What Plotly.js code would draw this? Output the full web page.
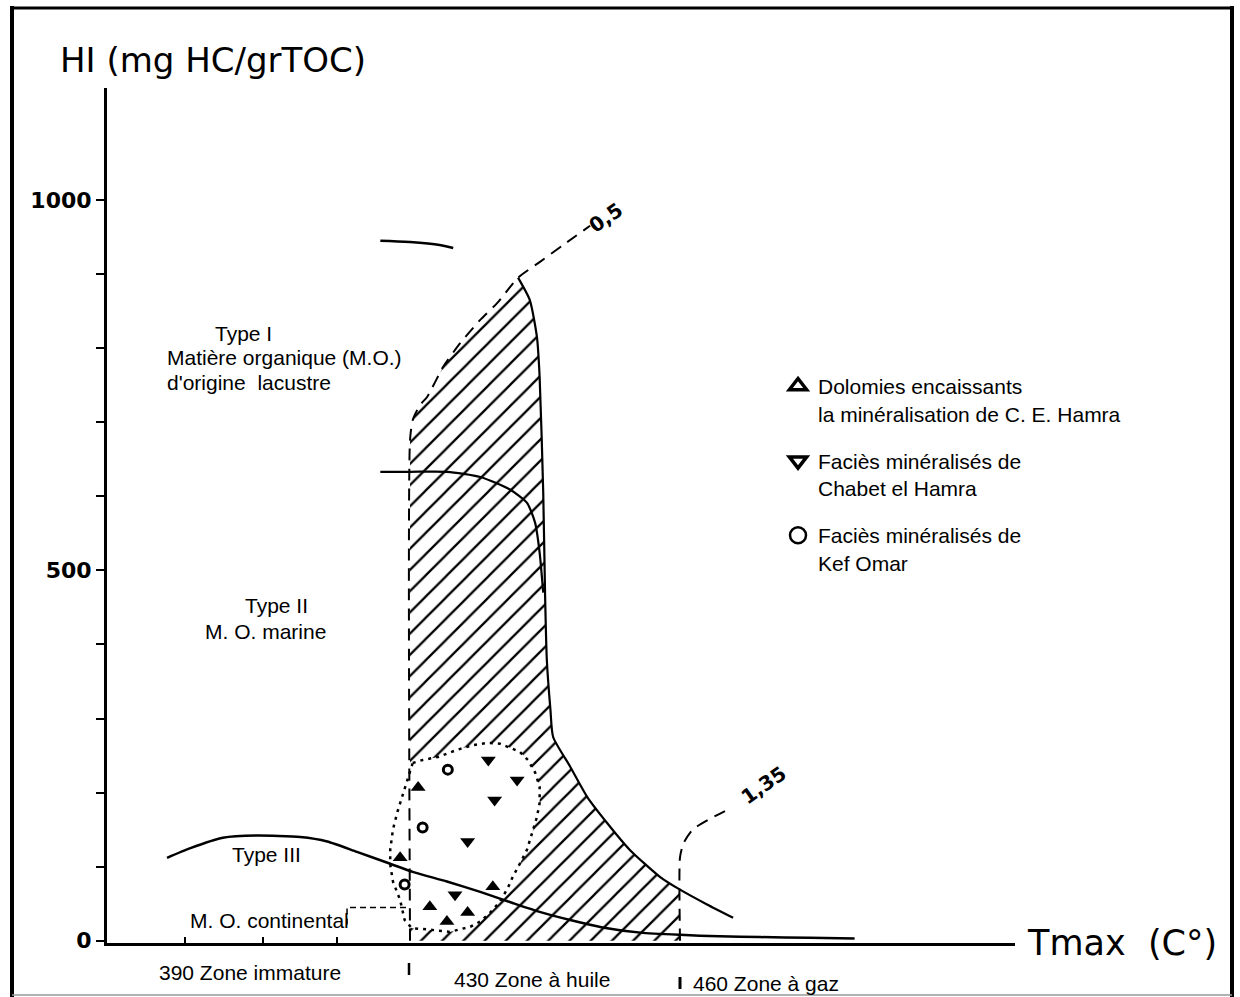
<!DOCTYPE html>
<html><head><meta charset="utf-8">
<script src="https://cdn.plot.ly/plotly-3.0.1.min.js"></script>
<style>html,body{margin:0;padding:0;background:#fff}#chart{width:1240px;height:997px}</style>
</head><body><div id="chart"></div>
<script>
// ---- values (x: Tmax °C, y: HI mg HC/g TOC) ----
const typeI_x = [426.7, 430, 433.3, 434.8];
const typeI_y = [945, 943, 939, 935];

const iso05_x = [430, 430, 430.3, 431.1, 431.9, 433.7, 435.6, 437.8, 439.7, 442, 444.4, 447, 450];
const iso05_y = [0, 676, 703, 723, 734, 775, 807, 838, 861, 895, 916, 939, 965];

const edgeI_x = [442, 443.3, 444.1, 444.4, 444.8, 445, 445.2, 445.6, 445.9, 447.8, 449.7, 451.9, 454.4, 457.8, 460, 463, 465.9];
const edgeI_y = [895, 865, 815, 761, 605, 470, 379, 312, 275, 235, 194, 159, 123, 86, 69, 49, 31];

const typeII_x = [426.7, 430, 434.1, 437.8, 441.1, 443, 443.9, 444.4, 444.8];
const typeII_y = [633, 633, 633, 626, 609, 591, 564, 524, 470];

const typeIII_x = [403, 405.6, 409.2, 413, 417.8, 420.8, 424.1, 427.8, 430.3, 434.1, 437.8, 441.4, 444.4, 447.8, 451.4, 455.6, 460, 464.4, 468.9, 474.4, 479.4];
const typeIII_y = [112, 125, 139, 142, 140, 134, 120, 104, 93, 80, 66, 51, 39, 28, 18, 11, 8, 6, 5, 4, 3];

const iso135_x = [460, 460, 460.4, 461.4, 463.1, 465.3];
const iso135_y = [0, 113, 132, 150, 163, 177];

const contin_x = [423, 423, 429.8];
const contin_y = [22, 45, 45];

const envelope_x = [430.3, 431.4, 433.1, 435.3, 437, 438.6, 440, 442.2, 443.1, 443.9, 444.4, 444.4, 444.1, 443.6, 443, 442.2, 441.4, 440.9, 440, 438.9, 437.8, 436.7, 434.4, 432.2, 430.2, 429.4, 428.9, 428.1, 427.8, 427.8, 428.1, 428.6, 429.4, 430.3];
const envelope_y = [240, 244, 248, 258, 264, 267, 266, 255, 244, 227, 208, 186, 167, 146, 123, 104, 86, 72, 53, 38, 26, 19, 12, 15, 17, 28, 55, 80, 103, 123, 150, 174, 204, 240];

const dolomie_x = [430.9, 428.9, 439.2, 432.2, 436.4, 434.1];
const dolomie_y = [207, 112, 73, 46, 38, 26];
const chabet_x = [438.7, 441.9, 439.4, 436.4, 435];
const chabet_y = [244, 217, 190, 134, 62];
const kef_x = [434.2, 431.4, 429.4];
const kef_y = [231, 153, 76];

const seriesNames = [
  'Dolomies encaissants<br>la minéralisation de C. E. Hamra',
  'Faciès minéralisés de<br>Chabet el Hamra',
  'Faciès minéralisés de<br>Kef Omar'
];
const yTitle = 'HI (mg HC/grTOC)';
const xTitle = 'Tmax\u00a0\u00a0(C°)';
const zoneLabels = ['390 Zone immature', '430 Zone à huile', '460 Zone à gaz'];
const zoneLabelX = [401.9, 434.7, 461.2];
const xTickVals = [405, 413.7, 421.9];
const yMinorVals = [100, 200, 300, 400, 600, 700, 800, 900];

// hatched maturity window built from the curves above
const hatch_x = iso05_x.slice(1, 10).concat(edgeI_x.slice(1, 15), [460, 430]);
const hatch_y = iso05_y.slice(1, 10).concat(edgeI_y.slice(1, 15), [0, 0]);

const K = '#000';
const traces = [
  {x: hatch_x, y: hatch_y, mode: 'lines', fill: 'toself', line: {width: 0, color: 'rgba(0,0,0,0)'},
   fillcolor: 'rgba(0,0,0,0)', fillpattern: {shape: '/', size: 15, solidity: 0.15, fgcolor: K, bgcolor: 'rgba(0,0,0,0)'},
   hoverinfo: 'skip', showlegend: false},
  {x: envelope_x, y: envelope_y, mode: 'lines', fill: 'toself', fillcolor: '#fff',
   line: {color: K, width: 2.5, dash: '3px,5px'}, hoverinfo: 'skip', showlegend: false},
  {x: typeI_x, y: typeI_y, mode: 'lines', line: {color: K, width: 2.5, shape: 'spline'}, showlegend: false},
  {x: iso05_x, y: iso05_y, mode: 'lines', line: {color: K, width: 2, dash: '12px,8px', shape: 'spline', smoothing: 0.6}, showlegend: false},
  {x: edgeI_x, y: edgeI_y, mode: 'lines', line: {color: K, width: 2.2, shape: 'spline', smoothing: 0.6}, showlegend: false},
  {x: typeII_x, y: typeII_y, mode: 'lines', line: {color: K, width: 2.2, shape: 'spline', smoothing: 0.6}, showlegend: false},
  {x: typeIII_x, y: typeIII_y, mode: 'lines', line: {color: K, width: 2.5, shape: 'spline', smoothing: 0.6}, showlegend: false},
  {x: iso135_x, y: iso135_y, mode: 'lines', line: {color: K, width: 2, dash: '12px,8px', shape: 'spline', smoothing: 0.6}, showlegend: false},
  {x: contin_x, y: contin_y, mode: 'lines', line: {color: K, width: 1.5, dash: '6px,4px'}, showlegend: false},
  {x: dolomie_x, y: dolomie_y, mode: 'markers', marker: {symbol: 'triangle-up', size: 13, color: K}, showlegend: false, name: seriesNames[0]},
  {x: chabet_x, y: chabet_y, mode: 'markers', marker: {symbol: 'triangle-down', size: 13, color: K}, showlegend: false, name: seriesNames[1]},
  {x: kef_x, y: kef_y, mode: 'markers', marker: {symbol: 'circle-open', size: 9, color: K, line: {width: 3, color: K}}, showlegend: false, name: seriesNames[2]},
  // legend entries (open symbols as in the key)
  {x: [null], y: [null], mode: 'markers', name: seriesNames[0], legendgroup: 'a', marker: {symbol: 'triangle-up-open', size: 15, color: K, line: {width: 3.5, color: K}}},
  {x: [null], y: [null], mode: 'markers', name: seriesNames[1], legendgroup: 'b', marker: {symbol: 'triangle-down-open', size: 15, color: K, line: {width: 3.5, color: K}}},
  {x: [null], y: [null], mode: 'markers', name: seriesNames[2], legendgroup: 'c', marker: {symbol: 'circle-open', size: 16, color: K, line: {width: 2.5, color: K}}}
];

const FS = 21;
const txt = (text, x, y, extra) => Object.assign({text, x, y, xref: 'x', yref: 'y', showarrow: false, xanchor: 'left', yanchor: 'middle', font: {size: FS}}, extra || {});
const annotations = [
  txt('Type I', 408.1, 820),
  txt('Matière organique (M.O.)', 402.8, 787),
  txt("d'origine  lacustre", 402.8, 753),
  txt('Type II', 411.4, 452),
  txt('M. O. marine', 407, 417),
  txt('Type III', 410, 116),
  txt('M. O. continental', 405.3, 28),
  txt('0,5', 451.7, 976, {xanchor: 'center', textangle: -35, font: {family: 'DejaVu Sans', size: 20, weight: 'bold'}}),
  txt('1,35', 469.3, 210, {xanchor: 'center', textangle: -35, font: {family: 'DejaVu Sans', size: 20, weight: 'bold'}}),
  {text: xTitle, xref: 'paper', yref: 'paper', x: 1.011, y: 0, xanchor: 'left', yanchor: 'middle', showarrow: false,
   font: {family: 'DejaVu Sans', size: 35}}
];
const zoneY = [-0.034, -0.043, -0.047];
zoneLabels.forEach((t, i) => annotations.push({text: t, x: zoneLabelX[i], y: zoneY[i], xref: 'x', yref: 'paper',
  xanchor: 'left', yanchor: 'middle', showarrow: false, font: {size: FS}}));

const P = (px) => (px - 107) / 908, Q = (py) => (943 - py) / 855;
const shapes = [
  {type: 'line', xref: 'paper', yref: 'paper', x0: P(12), x1: P(12), y0: Q(6), y1: Q(997), line: {color: K, width: 4}},
  {type: 'line', xref: 'paper', yref: 'paper', x0: P(10), x1: P(1234), y0: Q(8), y1: Q(8), line: {color: K, width: 3}},
  {type: 'line', xref: 'paper', yref: 'paper', x0: P(1232), x1: P(1232), y0: Q(6), y1: Q(997), line: {color: K, width: 4}},
  {type: 'line', xref: 'paper', yref: 'paper', x0: P(12), x1: P(1232), y0: Q(995), y1: Q(995), line: {color: '#999', width: 1.5}},
  {type: 'line', xref: 'paper', yref: 'paper', x0: P(409), x1: P(409), y0: Q(963), y1: Q(975), line: {color: K, width: 2.5}},
  {type: 'line', xref: 'paper', yref: 'paper', x0: P(680), x1: P(680), y0: Q(977), y1: Q(989), line: {color: K, width: 3}}
];

const layout = {
  width: 1240, height: 997,
  margin: {l: 107, r: 225, t: 88, b: 54, autoexpand: false},
  paper_bgcolor: '#fff', plot_bgcolor: '#fff',
  font: {family: 'Liberation Sans, Arial, sans-serif', size: FS, color: K},
  title: {text: yTitle, font: {family: 'DejaVu Sans', size: 34, color: K}, xref: 'container', yref: 'container',
          x: 60 / 1240, xanchor: 'left', y: 1 - 60 / 997, yanchor: 'middle'},
  xaxis: {range: [396.33, 497.22], showline: true, linewidth: 2.5, linecolor: K, showgrid: false, zeroline: false,
          tickmode: 'array', tickvals: xTickVals, ticks: 'inside', ticklen: 6, tickwidth: 2, tickcolor: K,
          showticklabels: false, automargin: false, fixedrange: true},
  yaxis: {range: [-3, 1151], showline: true, linewidth: 3, linecolor: K, showgrid: false, zeroline: false,
          tickmode: 'linear', tick0: 0, dtick: 500, ticks: 'outside', ticklen: 8, tickwidth: 2, tickcolor: K,
          tickfont: {family: 'DejaVu Sans', size: 22, weight: 'bold', color: K},
          minor: {tickmode: 'array', tickvals: yMinorVals, ticks: 'outside', ticklen: 8, tickwidth: 2, tickcolor: K, showgrid: false},
          automargin: false, fixedrange: true},
  showlegend: true,
  legend: {x: 0.739, y: 0.675, xanchor: 'left', yanchor: 'top', bgcolor: 'rgba(0,0,0,0)', borderwidth: 0,
           font: {size: FS, color: K}, valign: 'top', traceorder: 'grouped', tracegroupgap: 17},
  annotations, shapes
};
Plotly.newPlot('chart', traces, layout, {displayModeBar: false, staticPlot: true});
</script></body></html>
